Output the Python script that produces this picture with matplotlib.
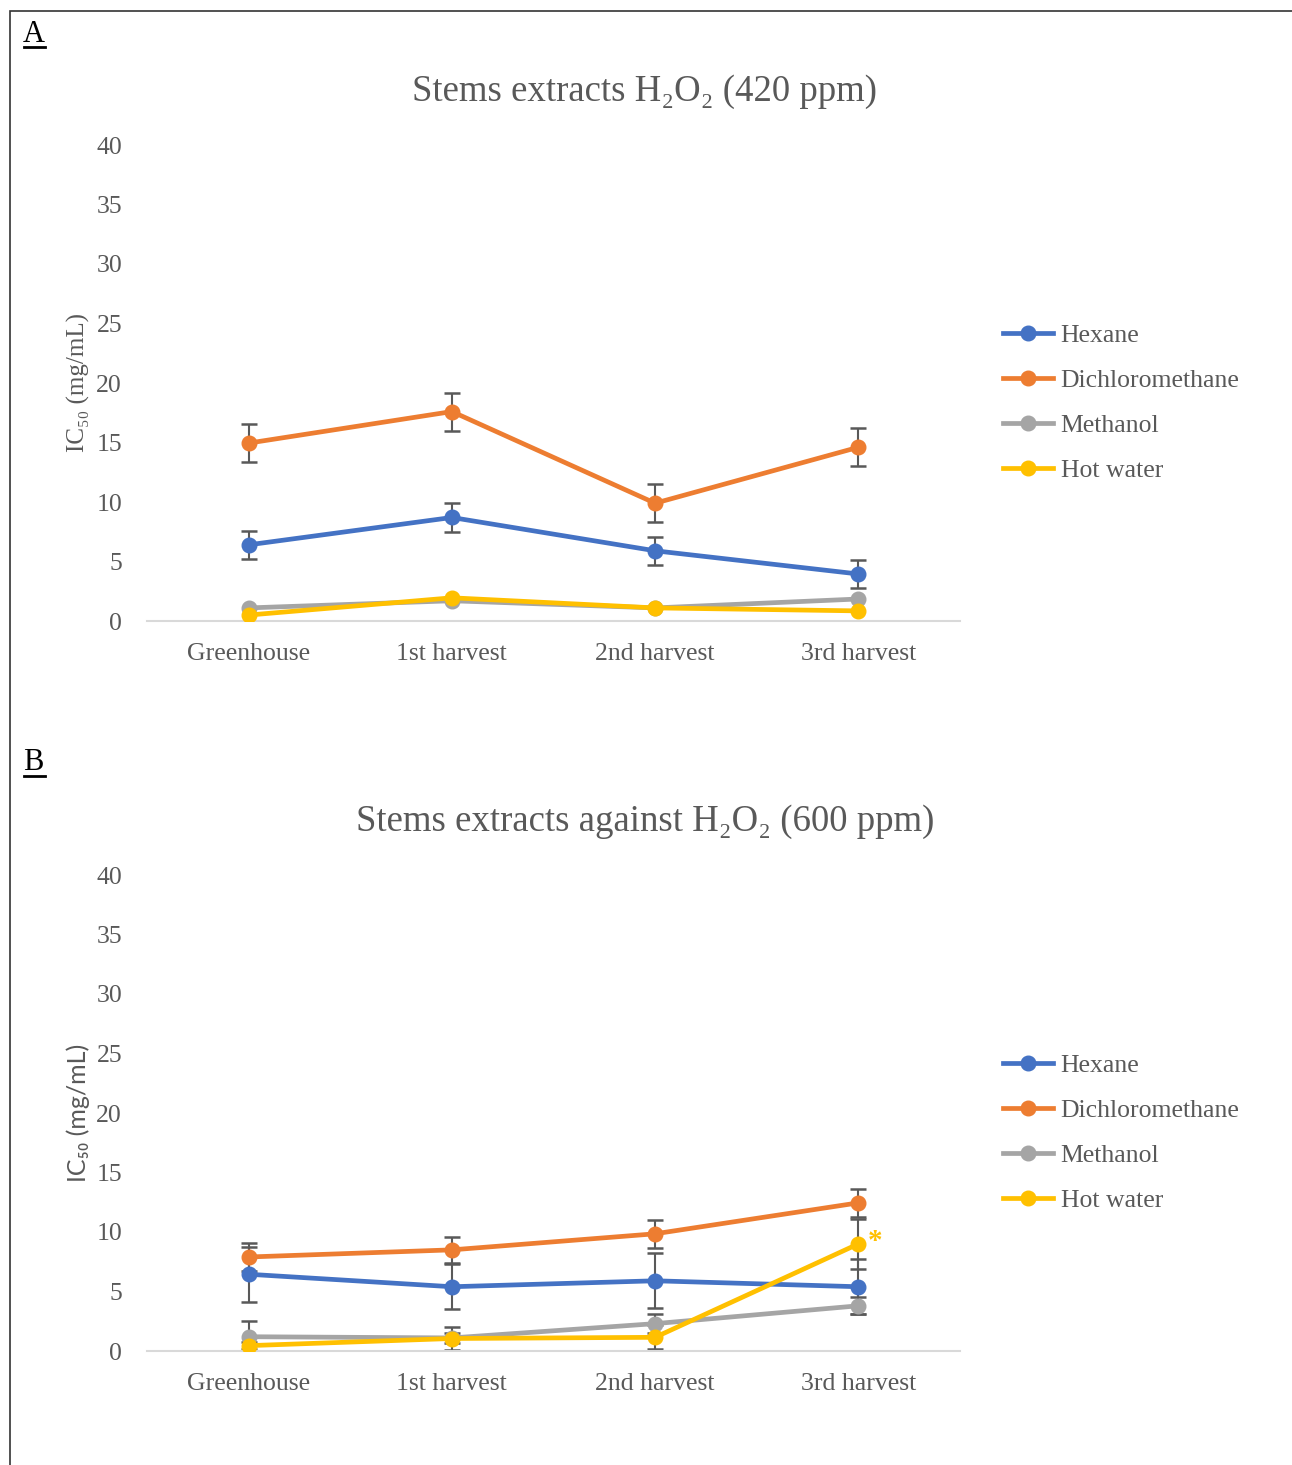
import matplotlib
matplotlib.use("Agg")
import matplotlib.pyplot as plt
from matplotlib.lines import Line2D
from matplotlib.patches import Rectangle

SERIF = ["Liberation Serif", "DejaVu Serif"]
SANS = ["Lato", "DejaVu Sans"]
TEXT = "#595959"

categories = ["Greenhouse", "1st harvest", "2nd harvest", "3rd harvest"]
series_names = ["Hexane", "Dichloromethane", "Methanol", "Hot water"]
colors = ["#4472C4", "#ED7D31", "#A5A5A5", "#FFC000"]
yticks = [0, 5, 10, 15, 20, 25, 30, 35, 40]

# Panel A: H2O2 420 ppm
a_hexane = [6.4, 8.7, 5.9, 3.95]
a_dcm = [14.95, 17.6, 9.9, 14.6]
a_methanol = [1.1, 1.7, 1.1, 1.85]
a_hotwater = [0.5, 1.95, 1.1, 0.85]
a_hexane_err = [1.2, 1.2, 1.2, 1.2]
a_dcm_err = [1.6, 1.6, 1.6, 1.6]
a_methanol_err = [0, 0, 0, 0]
a_hotwater_err = [0, 0, 0, 0]

# Panel B: H2O2 600 ppm
b_hexane = [6.45, 5.4, 5.9, 5.4]
b_dcm = [7.9, 8.5, 9.85, 12.45]
b_methanol = [1.2, 1.1, 2.3, 3.8]
b_hotwater = [0.45, 1.05, 1.15, 9.0]
b_hexane_err = [2.3, 1.9, 2.3, 2.3]
b_dcm_err = [1.2, 1.1, 1.2, 1.2]
b_methanol_err = [1.3, 0.4, 0.8, 0.7]
b_hotwater_err = [0.3, 1.0, 1.0, 2.1]

fig = plt.figure(figsize=(12.92, 14.65), dpi=100)

# outer frame
fig.patches.append(Rectangle((10 / 1292, -0.01), 1.2, 1 - 11 / 1465 + 0.01,
                             transform=fig.transFigure, fill=False,
                             edgecolor="#333333", linewidth=1.2))

FS = 18.5


def panel(bottom, title, vals, errs, ylabel_family, star=False):
    ax = fig.add_axes([147 / 1292, bottom, (960 - 147) / 1292, 476 / 1465])
    x = list(range(len(categories)))
    for name, col, v, e in zip(series_names, colors, vals, errs):
        ax.plot(x, v, color=col, lw=3.4, marker="o", ms=10.5, label=name,
                solid_capstyle="round", zorder=3)
        if any(val > 0 for val in e):
            ax.errorbar(x, v, yerr=e, fmt="none", ecolor="#595959",
                        elinewidth=1.5, capsize=6, capthick=1.8, zorder=2)
    ax.set_xlim(-0.5, 3.5)
    ax.set_ylim(0, 40)
    ax.set_yticks(yticks)
    ax.set_xticks(x)
    ax.set_xticklabels(categories, family=SERIF, fontsize=FS, color=TEXT)
    ax.set_yticklabels([str(t) for t in yticks], family=SERIF, fontsize=FS,
                       color=TEXT)
    ax.tick_params(axis="y", length=0, pad=18)
    ax.tick_params(axis="x", length=0, pad=16)
    for s in ["top", "right", "left"]:
        ax.spines[s].set_visible(False)
    ax.spines["bottom"].set_color("#D9D9D9")
    ax.spines["bottom"].set_linewidth(1.5)
    ax.set_ylabel("IC\u2085\u2080 (mg/mL)", family=ylabel_family, fontsize=18,
                  color=TEXT)
    ax.yaxis.set_label_coords(-0.07, 0.5)
    fig.text(645 / 1292, bottom + 476 / 1465 + 53 / 1465, title, family=SERIF,
             fontsize=26.5, color=TEXT, ha="center", va="center")
    handles = [Line2D([0], [0], color=c, lw=3.4, marker="o", ms=10.5)
               for c in colors]
    leg = ax.legend(handles, series_names, loc="center left",
                    bbox_to_anchor=(1.040, 0.458), frameon=False,
                    prop={"family": SERIF, "size": FS}, handlelength=1.95,
                    handletextpad=0.3, labelspacing=0.86, borderaxespad=0)
    for t in leg.get_texts():
        t.set_color(TEXT)
    if star:
        ax.annotate("*", (3, vals[3][3]), xytext=(7, 2),
                    textcoords="offset points", color=colors[3],
                    fontsize=21, fontweight="bold", ha="left", va="center",
                    family=SERIF)
    return ax


panel(1 - 621 / 1465, "Stems extracts H\u2082O\u2082 (420 ppm)",
      [a_hexane, a_dcm, a_methanol, a_hotwater],
      [a_hexane_err, a_dcm_err, a_methanol_err, a_hotwater_err], SERIF)
panel(1 - 1351 / 1465, "Stems extracts against H\u2082O\u2082 (600 ppm)",
      [b_hexane, b_dcm, b_methanol, b_hotwater],
      [b_hexane_err, b_dcm_err, b_methanol_err, b_hotwater_err], SANS,
      star=True)

for lab, ypix in [("A", 34), ("B", 763)]:
    fig.text(23 / 1292, 1 - ypix / 1465, lab, family=SERIF, fontsize=22,
             color="black", ha="left", va="center")
    fig.add_artist(Line2D([24 / 1292, 45 / 1292],
                          [1 - (ypix + 13) / 1465, 1 - (ypix + 13) / 1465],
                          transform=fig.transFigure, color="black", lw=2))

fig.savefig("out.png", dpi=100, facecolor="white")
